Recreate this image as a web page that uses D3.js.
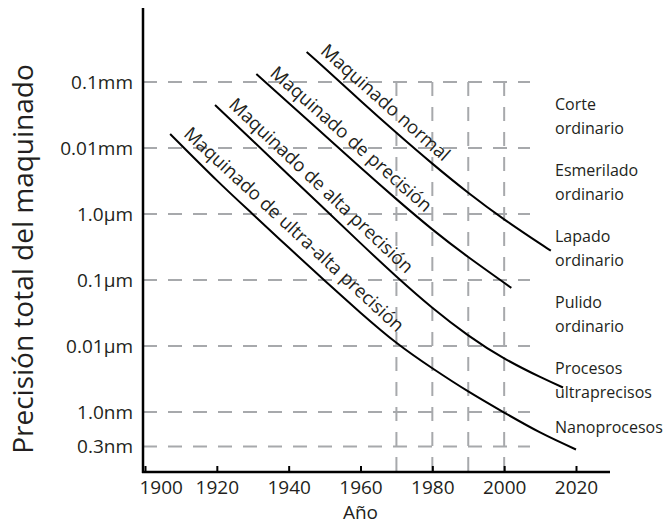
<!DOCTYPE html>
<html>
<head>
<meta charset="utf-8">
<script src="https://cdn.jsdelivr.net/npm/d3@7"></script>
<style>
  body { margin: 0; background: #fff; }
  text { font-family: "Open Sans", sans-serif; fill: #231f20; }
</style>
</head>
<body>
<div id="chart"></div>
<script>
// axis ticks
const xTicks = [1900, 1920, 1940, 1960, 1980, 2000, 2020];
const gridYears = [1970, 1980, 1990, 2000];
const yTickValues = [1e5, 1e4, 1e3, 100, 10, 1, 0.3]; // in nm
const yTickLabels = ["0.1mm", "0.01mm", "1.0µm", "0.1µm", "0.01µm", "1.0nm", "0.3nm"];

// processes on the right, one per band between two ticks
const processLabels = [
  ["Corte", "ordinario"],
  ["Esmerilado", "ordinario"],
  ["Lapado", "ordinario"],
  ["Pulido", "ordinario"],
  ["Procesos", "ultraprecisos"],
  ["Nanoprocesos"]
];

// curves (year, precision in nm)
const seriesNames = [
  "Maquinado normal",
  "Maquinado de precisión",
  "Maquinado de alta precisión",
  "Maquinado de ultra-alta precisión"
];
const normalYears = [1945, 1950, 1960, 1970, 1980, 1990, 2000, 2010, 2013];
const normalValues = [285000, 163000, 52000, 17000, 5800, 2100, 830, 355, 278];
const precisionYears = [1931, 1940, 1950, 1960, 1970, 1980, 1990, 2002];
const precisionValues = [132000, 48000, 15600, 5050, 1680, 585, 223, 76];
const altaYears = [1919.5, 1930, 1940, 1950, 1960, 1970, 1980, 1990, 2000, 2010, 2016.4];
const altaValues = [44900, 12900, 3910, 1190, 362, 113, 38, 14.5, 6.5, 3.4, 2.35];
const ultraYears = [1907, 1920, 1930, 1940, 1950, 1960, 1970, 1980, 1990, 2000, 2010, 2020];
const ultraValues = [16300, 3230, 995, 310, 98, 32, 11.2, 4.6, 2.05, 0.98, 0.49, 0.27];

const WIDTH = 663, HEIGHT = 527;
const AXIS_X = 143, AXIS_Y = 472;

const svg = d3.select("#chart").append("svg")
  .attr("width", WIDTH)
  .attr("height", HEIGHT);

const x = d3.scaleLinear().domain([1900, 2020]).range([145, 576]);
const y = d3.scaleLog().domain([1, 1e5]).range([412, 82]);

const gridColour = "#a7a9ac";

// horizontal dashed lines
svg.append("g").selectAll("line")
  .data(yTickValues)
  .join("line")
    .attr("x1", AXIS_X)
    .attr("x2", 530)
    .attr("y1", d => y(d))
    .attr("y2", d => y(d))
    .attr("stroke", gridColour)
    .attr("stroke-width", 2)
    .attr("stroke-dasharray", "14,11");

// vertical dashed lines
svg.append("g").selectAll("line")
  .data(gridYears)
  .join("line")
    .attr("x1", d => x(d))
    .attr("x2", d => x(d))
    .attr("y1", y(1e5))
    .attr("y2", AXIS_Y)
    .attr("stroke", gridColour)
    .attr("stroke-width", 2)
    .attr("stroke-dasharray", "14,11");

// x axis
const xAxis = svg.append("g")
  .attr("transform", `translate(0,${AXIS_Y})`)
  .call(d3.axisBottom(x).tickValues(xTicks).tickFormat(d3.format("d")).tickSize(-6).tickPadding(9));
xAxis.select(".domain").remove();
xAxis.selectAll(".tick line").attr("stroke", "#000").attr("stroke-width", 2);
xAxis.selectAll(".tick text")
  .style("font-size", "19px")
  .attr("fill", "#231f20");
xAxis.select(".tick text").attr("text-anchor", "start").attr("x", -6);

// y axis labels
const yAxis = svg.append("g")
  .attr("transform", `translate(${AXIS_X},0)`)
  .call(d3.axisLeft(y).tickValues(yTickValues).tickFormat((d, i) => yTickLabels[i]).tickSize(0).tickPadding(10));
yAxis.select(".domain").remove();
yAxis.selectAll(".tick text")
  .style("font-size", "19px")
  .attr("fill", "#231f20");

// axis lines
svg.append("line")
  .attr("x1", AXIS_X).attr("x2", AXIS_X)
  .attr("y1", 8).attr("y2", AXIS_Y + 1)
  .attr("stroke", "#000").attr("stroke-width", 2.5);
svg.append("line")
  .attr("x1", AXIS_X - 1).attr("x2", 610)
  .attr("y1", AXIS_Y).attr("y2", AXIS_Y)
  .attr("stroke", "#000").attr("stroke-width", 2.5);

// axis titles
svg.append("text")
  .attr("x", x(1960))
  .attr("y", 519)
  .attr("text-anchor", "middle")
  .style("font-size", "19px")
  .text("Año");

svg.append("text")
  .attr("transform", `translate(33,259) rotate(-90)`)
  .attr("text-anchor", "middle")
  .style("font-size", "28px")
  .text("Precisión total del maquinado");

// process labels on the right
const bands = svg.append("g").selectAll("text")
  .data(processLabels)
  .join("text")
    .attr("x", 555)
    .attr("y", (d, i) => (y(yTickValues[i]) + y(yTickValues[i + 1])) / 2 + (d.length > 1 ? -5 : 4))
    .style("font-size", "16px");
bands.selectAll("tspan")
  .data(d => d)
  .join("tspan")
    .attr("x", 555)
    .attr("dy", (d, i) => i === 0 ? 0 : 24)
    .text(d => d);

// curves
const series = [
  {name: seriesNames[0], years: normalYears, values: normalValues},
  {name: seriesNames[1], years: precisionYears, values: precisionValues},
  {name: seriesNames[2], years: altaYears, values: altaValues},
  {name: seriesNames[3], years: ultraYears, values: ultraValues}
].map(s => ({name: s.name, points: s.years.map((yr, i) => ({year: yr, value: s.values[i]}))}));

const line = d3.line()
  .x(d => x(d.year))
  .y(d => y(d.value))
  .curve(d3.curveNatural);

const paths = svg.append("g").selectAll("path")
  .data(series)
  .join("path")
    .attr("d", d => line(d.points))
    .attr("fill", "none")
    .attr("stroke", "#000")
    .attr("stroke-width", 2);

// curve labels, laid along the start of each path
paths.each(function (d) {
  const label = svg.append("text")
    .style("font-size", "18.5px")
    .text(d.name);
  const len = label.node().getComputedTextLength();
  const p1 = this.getPointAtLength(10);
  const p2 = this.getPointAtLength(10 + len);
  const angle = Math.atan2(p2.y - p1.y, p2.x - p1.x) * 180 / Math.PI;
  label.attr("transform", `translate(${p1.x},${p1.y}) rotate(${angle})`)
    .attr("dy", -8);
});
</script>
</body>
</html>
